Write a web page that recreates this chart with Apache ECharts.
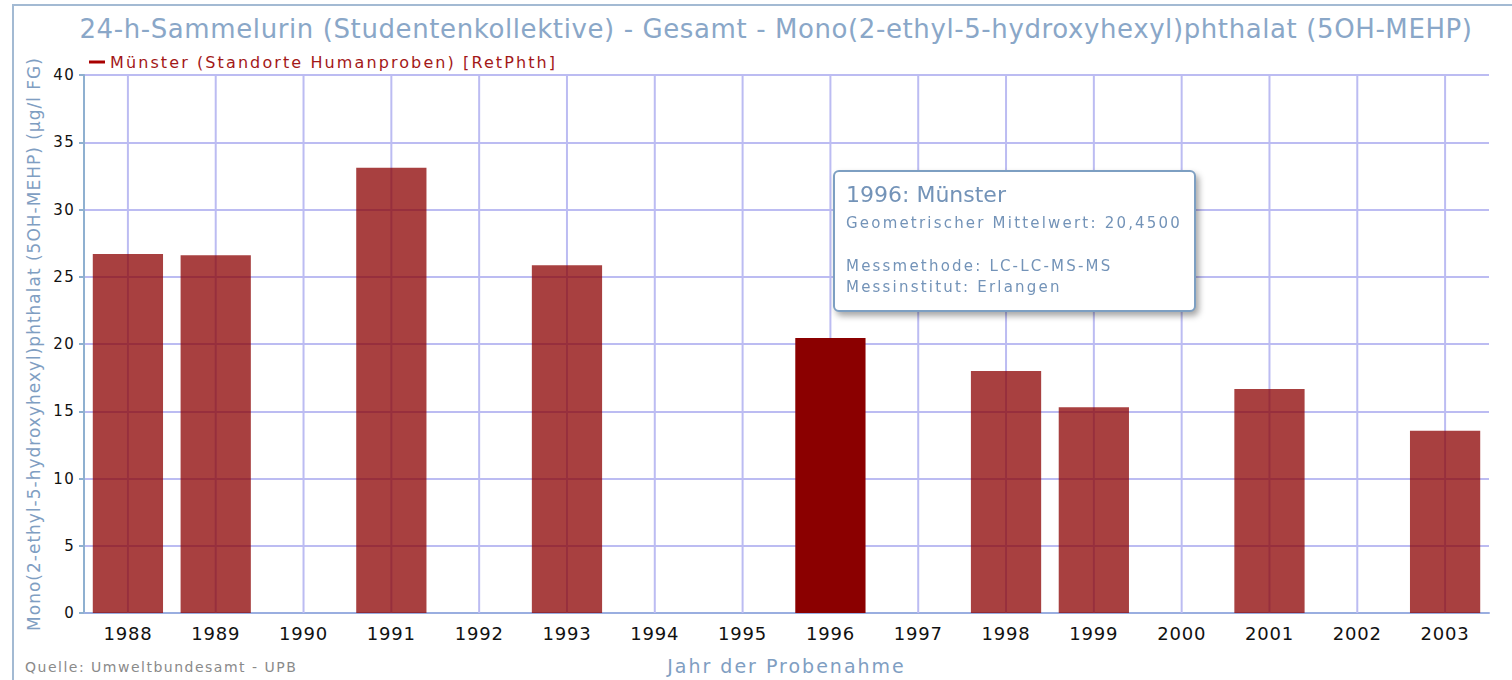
<!DOCTYPE html>
<html lang="de">
<head>
    <meta charset="UTF-8">
    <title>5OH-MEHP</title>
    <script src="https://cdn.jsdelivr.net/npm/echarts@6.0.0/dist/echarts.min.js"></script>
    <style>
        html, body { margin: 0; padding: 0; background: #fff; }
        #frame { position: absolute; left: 12px; top: 4px; width: 1520px; height: 700px; border: 2px solid #a3bad3; box-sizing: border-box; }
        #chart { position: absolute; left: 0; top: 0; width: 1512px; height: 680px; }
        /* the old chart draws its texts wide spaced, so space the svg texts out by size */
        #chart text[style*="26px"] { letter-spacing: 0.6px; }
        #chart text[style*="19px"] { letter-spacing: 2px; }
        #chart text[style*="18px"] { letter-spacing: 0.8px; }
        #chart text[style*="17px"] { letter-spacing: 1px; }
        #chart text[style*="16px"] { letter-spacing: 2.1px; }
        #chart text[style*="15px"] { letter-spacing: 1.3px; }
        #chart text[style*="14px"] { letter-spacing: 1.5px; }
    </style>
</head>
<body>
    <div id="frame"></div>
    <div id="chart"></div>
    <script type="text/javascript">
        // Data
        const years = ['1988', '1989', '1990', '1991', '1992', '1993', '1994', '1995',
                       '1996', '1997', '1998', '1999', '2000', '2001', '2002', '2003'];
        const values = [26.7, 26.6, null, 33.1, null, 25.85, null, null,
                        20.45, null, 18.0, 15.3, null, 16.65, null, 13.55];
        const highlightIndex = 8;
        const seriesName = 'Münster (Standorte Humanproben) [RetPhth]';
        const yMax = 40;

        const FONT = '"DejaVu Sans", Verdana, sans-serif';
        const blueText = '#7f9ec2';
        const gridColor = '#bcbcf2';

        const chart = echarts.init(document.getElementById('chart'), null, { renderer: 'svg' });

        const barData = values.map((v, i) => {
            if (v === null) return '-';
            if (i === highlightIndex) return { value: v, itemStyle: { opacity: 1 } };
            return v;
        });

        chart.setOption({
            animation: false,
            textStyle: { fontFamily: FONT },
            title: {
                text: '24-h-Sammelurin (Studentenkollektive) - Gesamt - Mono(2-ethyl-5-hydroxyhexyl)phthalat (5OH-MEHP)',
                left: 771,
                textAlign: 'center',
                top: 11,
                textStyle: { fontFamily: FONT, fontSize: 26, fontWeight: 'normal', color: '#8aa7c8' }
            },
            legend: {
                left: 84,
                top: 49,
                icon: 'rect',
                itemWidth: 16,
                itemHeight: 3,
                textStyle: { fontFamily: FONT, fontSize: 16, color: '#a31818' },
                data: [{ name: seriesName, itemStyle: { color: '#a80000', opacity: 1 } }]
            },
            tooltip: {
                trigger: 'item',
                triggerOn: 'none',
                alwaysShowContent: true,
                position: [833, 170],
                backgroundColor: '#fff',
                borderColor: '#7d9fc2',
                borderWidth: 2,
                padding: [9, 11, 9, 11],
                extraCssText: 'border-radius:6px;box-shadow:3px 4px 6px rgba(0,0,0,0.35);width:337px;height:120px;',
                formatter: function (p) {
                    const v = p.value.toFixed(4).replace('.', ',');
                    return '<div style="font-family:DejaVu Sans;color:#7393b8;">' +
                        '<div style="font-size:22px;line-height:28px;">' + p.name + ': Münster</div>' +
                        '<div style="font-size:15px;line-height:22px;margin-top:3px;letter-spacing:2.2px;">Geometrischer Mittelwert: ' + v + '</div>' +
                        '<div style="font-size:15px;line-height:21px;margin-top:22px;letter-spacing:2.2px;">Messmethode: LC-LC-MS-MS</div>' +
                        '<div style="font-size:15px;line-height:21px;letter-spacing:2.2px;">Messinstitut: Erlangen</div>' +
                        '</div>';
                }
            },
            grid: { left: 84, right: 23, top: 75, bottom: 65 },
            xAxis: {
                type: 'category',
                data: years,
                name: 'Jahr der Probenahme',
                nameLocation: 'middle',
                nameGap: 43,
                nameTextStyle: { fontFamily: FONT, fontSize: 19, color: blueText },
                axisLine: { lineStyle: { color: '#9aaee0', width: 2 } },
                axisTick: { alignWithLabel: true, length: 5, lineStyle: { color: '#8fb0d0', width: 2 } },
                axisLabel: { fontFamily: FONT, fontSize: 18, color: '#111', margin: 11 },
                splitLine: { show: false }
            },
            yAxis: {
                type: 'value',
                min: 0,
                max: yMax,
                interval: 5,
                name: 'Mono(2-ethyl-5-hydroxyhexyl)phthalat (5OH-MEHP) (µg/l FG)',
                nameLocation: 'middle',
                nameGap: 42,
                nameTextStyle: { fontFamily: FONT, fontSize: 17, color: blueText },
                axisLine: { show: true, lineStyle: { color: '#8fb0d0', width: 2 } },
                axisTick: { show: true, length: 5, lineStyle: { color: '#8fb0d0', width: 2 } },
                axisLabel: { fontFamily: FONT, fontSize: 15, color: '#111', margin: 9 },
                splitLine: { show: true, lineStyle: { color: gridColor, width: 2 } }
            },
            graphic: [{
                type: 'text',
                left: 25,
                top: 660,
                style: { text: 'Quelle: Umweltbundesamt - UPB', font: '14px ' + FONT, fill: '#8a8a8a' }
            }],
            series: [{
                name: seriesName,
                type: 'bar',
                z: 2,
                barWidth: '80%',
                data: barData,
                itemStyle: { color: '#8b0000', opacity: 0.75 }
            }, {
                // vertical grid lines sit on the category centres, under the bars
                type: 'custom',
                z: 1,
                silent: true,
                tooltip: { show: false },
                data: years.map(y => [y]),
                encode: { x: 0 },
                renderItem: function (params, api) {
                    const idx = api.value(0);
                    const bottom = api.coord([idx, 0]);
                    const top = api.coord([idx, yMax]);
                    return {
                        type: 'line',
                        shape: { x1: bottom[0], y1: bottom[1], x2: top[0], y2: top[1] },
                        style: { stroke: gridColor, lineWidth: 2 }
                    };
                }
            }]
        });

        chart.dispatchAction({ type: 'showTip', seriesIndex: 0, dataIndex: highlightIndex });
    </script>
</body>
</html>
